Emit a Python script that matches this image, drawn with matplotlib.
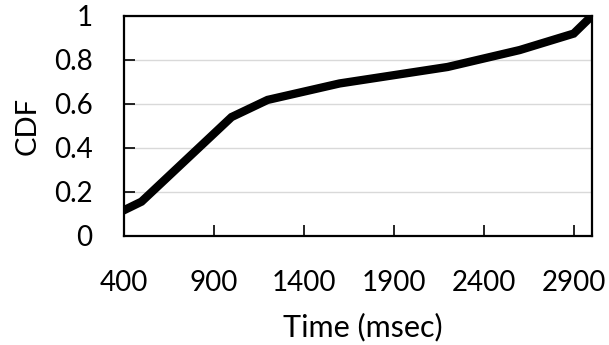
import matplotlib
matplotlib.use("Agg")
import matplotlib.pyplot as plt

time_ms = [400, 500, 1000, 1200, 1600, 2200, 2600, 2900, 3000]
cdf = [0.115, 0.155, 0.54, 0.618, 0.693, 0.768, 0.845, 0.92, 1.0]
x_ticks = [400, 900, 1400, 1900, 2400, 2900]
y_ticks = [0, 0.2, 0.4, 0.6, 0.8, 1]
y_tick_labels = ["0", "0.2", "0.4", "0.6", "0.8", "1"]

plt.rcParams['font.family'] = ['Lato', 'DejaVu Sans']
fig = plt.figure(figsize=(6.09, 3.45), dpi=100)
ax = fig.add_axes([123.5/609, 1-235.7/345, (591.7-123.5)/609, (235.7-16)/345])

ax.plot(time_ms, cdf, color='black', lw=6.0, solid_joinstyle='miter', zorder=3)
ax.set_xlim(400, 3000)
ax.set_ylim(0, 1)
ax.set_xticks(x_ticks)
ax.set_xticklabels([str(v) for v in x_ticks])
ax.set_yticks(y_ticks)
ax.set_yticklabels(y_tick_labels)
ax.yaxis.grid(True, color='#d9d9d9', lw=1.0, zorder=0)
ax.set_axisbelow(True)
ax.tick_params(direction='in', length=8, width=1.2, labelsize=20, colors='black')
ax.tick_params(axis='x', pad=24.5)
ax.tick_params(axis='y', pad=22.4)
for s in ax.spines.values():
    s.set_linewidth(1.6)
    s.set_color('black')
ax.set_xlabel('Time (msec)', fontsize=22, labelpad=12.2)
ax.xaxis.label.set_x(0.5105)
ax.set_ylabel('CDF', fontsize=21, labelpad=9.2)

fig.savefig('out.png', dpi=100)
